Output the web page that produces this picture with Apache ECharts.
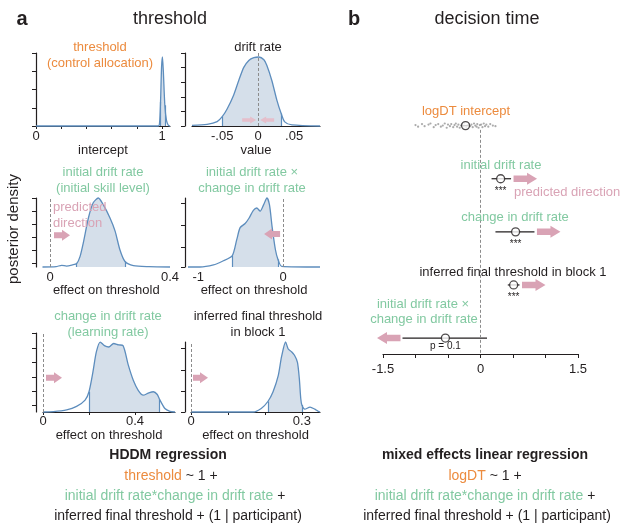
<!DOCTYPE html>
<html><head><meta charset="utf-8">
<script src="https://cdn.jsdelivr.net/npm/echarts@6/dist/echarts.min.js"></script>
<style>html,body{margin:0;padding:0;background:#fff}#c{width:629px;height:525px}</style>
</head><body><div id="c"></div>
<script>
// ---------- DATA ----------
// Panel a: posterior densities (x = parameter value, y = relative density)
const interceptX = [0, 0.97, 0.98, 0.988, 0.996, 1.003, 1.01, 1.022, 1.035, 1.05, 1.063];
const interceptY = [0, 0, 0.04, 0.35, 0.85, 1.0, 0.8, 0.3, 0.08, 0.01, 0];
const interceptCI = [0.988, 1.022];

const driftX = [-0.092, -0.071, -0.057, -0.05, -0.043, -0.034, -0.027, -0.02, -0.013, -0.006, 0.001, 0.008, 0.012, 0.019, 0.026, 0.032, 0.037, 0.047, 0.086];
const driftY = [0.01, 0.024, 0.063, 0.135, 0.25, 0.45, 0.66, 0.85, 0.95, 0.99, 1.0, 0.96, 0.88, 0.66, 0.375, 0.18, 0.06, 0.015, 0];
const driftCI = [-0.05, 0.032];

const initX = [-0.025, 0.02, 0.039, 0.055, 0.075, 0.089, 0.1, 0.111, 0.128, 0.144, 0.161, 0.178, 0.2, 0.217, 0.233, 0.25, 0.278, 0.33, 0.4];
const initY = [0, 0.005, 0.025, 0.012, 0.03, 0.05, 0.15, 0.35, 0.71, 0.93, 1.0, 0.9, 0.71, 0.52, 0.25, 0.08, 0.02, 0.005, 0];
const initCI = [0.089, 0.25];

const interX = [-1.12, -0.98, -0.82, -0.72, -0.6, -0.545, -0.506, -0.447, -0.4, -0.35, -0.31, -0.27, -0.23, -0.19, -0.16, -0.13, -0.09, -0.06, -0.015, 0.435];
const interY = [0, 0, 0.03, 0.08, 0.16, 0.4, 0.57, 0.63, 0.71, 0.82, 0.855, 0.81, 0.9, 1.0, 0.9, 0.59, 0.25, 0.11, 0.01, 0];
const interCI = [-0.6, -0.06];

const changeX = [0, 0.045, 0.103, 0.146, 0.183, 0.2, 0.217, 0.232, 0.249, 0.267, 0.286, 0.307, 0.329, 0.348, 0.371, 0.393, 0.414, 0.436, 0.458, 0.48, 0.497, 0.507, 0.53, 0.552, 0.574];
const changeY = [0, 0.005, 0.03, 0.08, 0.17, 0.29, 0.57, 0.86, 1.0, 0.95, 0.93, 0.98, 0.96, 0.95, 0.67, 0.45, 0.31, 0.24, 0.27, 0.29, 0.25, 0.18, 0.05, 0.01, 0];
const changeCI = [0.2, 0.507];

const finalX = [0, 0.168, 0.19, 0.208, 0.222, 0.236, 0.245, 0.256, 0.263, 0.272, 0.28, 0.288, 0.293, 0.297, 0.3, 0.308, 0.322, 0.335, 0.344, 0.349];
const finalY = [0, 0, 0.05, 0.15, 0.29, 0.52, 0.79, 1.0, 0.9, 0.86, 0.81, 0.71, 0.48, 0.19, 0.1, 0.04, 0.07, 0.04, 0.01, 0];
const finalCI = [0.208, 0.3];

// tick labels
const interceptTicks = [0, 1], interceptTickText = ['0', '1'];
const driftTicks = [-0.05, 0, 0.05], driftTickText = ['-.05', '0', '.05'];
const initTicks = [0, 0.4], initTickText = ['0', '0.4'];
const interTicks = [-1, 0], interTickText = ['-1', '0'];
const changeTicks = [0, 0.4], changeTickText = ['0', '0.4'];
const finalTicks = [0, 0.3], finalTickText = ['0', '0.3'];
const bTicks = [-1.5, 0, 1.5], bTickText = ['-1.5', '0', '1.5'];

// Panel b: mixed effects regression estimates
const bNames = ['logDT intercept', 'initial drift rate', 'change in drift rate', 'inferred final threshold in block 1', 'initial drift rate × change in drift rate'];
const bRow = [5, 4, 3, 2, 1];
const bEst = [-0.23, 0.31, 0.54, 0.51, -0.54];
const bLo = [-0.28, 0.17, 0.23, 0.42, -1.2];
const bHi = [-0.18, 0.47, 0.83, 0.60, 0.10];
const bSig = ['', '***', '***', '***', 'p = 0.1'];
const bDir = [0, 1, 1, 1, -1];
// participant intercepts (grey dots)
const dotX = [-1.0, -0.96, -0.9, -0.86, -0.8, -0.77, -0.72, -0.69, -0.65, -0.61, -0.58, -0.55, -0.52, -0.5, -0.47, -0.45, -0.42, -0.4, -0.38, -0.36, -0.34, -0.32, -0.3, -0.28, -0.26, -0.25, -0.22, -0.2, -0.18, -0.16, -0.14, -0.12, -0.1, -0.08, -0.06, -0.05, -0.03, -0.01, 0.01, 0.03, 0.05, 0.07, 0.09, 0.12, 0.15, 0.19, 0.23];
const dotOff = [0.01, -0.02, 0.03, -0.01, 0.02, 0.04, -0.03, 0.01, 0.03, -0.02, 0.0, 0.04, -0.04, 0.02, -0.01, 0.03, -0.03, 0.01, 0.04, -0.02, 0.02, -0.04, 0.0, 0.03, -0.02, 0.04, -0.03, 0.01, 0.03, -0.01, 0.02, -0.03, 0.04, 0.0, -0.02, 0.03, -0.04, 0.01, 0.02, -0.03, 0.04, -0.01, 0.02, -0.02, 0.03, 0.0, -0.01];

// ---------- STYLE ----------
const FONT = '"Liberation Sans", Arial, Helvetica, sans-serif';
const DARK = '#231F20', ORANGE = '#EC8B3E', GREEN = '#82C9A1', PINK = '#D9A3B5', PINK2 = '#E5BFCB';
const BLUE = '#5D8DBD', FILL = '#D5DFEA', GREY = '#8C8C8C';

const panels = [
  { x: interceptX, y: interceptY, ci: interceptCI, tv: interceptTicks, tt: interceptTickText,
    grid: { left: 36, top: 53, width: 134, height: 73 }, xmin: 0, xmax: 1.063, ymax: 1.058, yoff: 0,
    axisLine: true, xTicks: [0, 0.2, 0.4, 0.6, 0.8, 1.0], yTicks: [0, 0.2645, 0.529, 0.7935, 1.058],
    name: 'intercept', nameGap: 14.5, margin: 4, zero: false, arrows: [] },
  { x: driftX, y: driftY, ci: driftCI, tv: driftTicks, tt: driftTickText,
    grid: { left: 192, top: 53, width: 128, height: 73 }, xmin: -0.092, xmax: 0.086, ymax: 1.058, yoff: 7,
    axisLine: true, xTicks: null, yTicks: [0, 0.2116, 0.4232, 0.6348, 0.8464, 1.058],
    name: 'value', nameGap: 14.5, margin: 4, zero: true,
    arrows: [{ t: -16, dir: 1, len: 14, y: 0.087, small: true }, { t: 16, dir: -1, len: 14, y: 0.087, small: true }] },
  { x: initX, y: initY, ci: initCI, tv: initTicks, tt: initTickText,
    grid: { left: 42.5, top: 198, width: 127.5, height: 69 }, xmin: -0.025, xmax: 0.4, ymax: 1.0, yoff: 6.5,
    axisLine: false, xTicks: null, yTicks: [0.06, 0.25, 0.43, 0.62, 0.81, 1.0],
    name: 'effect on threshold', nameGap: 13.5, margin: 3.5, zero: true,
    arrows: [{ t: 4, dir: 1, len: 16, y: 0.46 }] },
  { x: interX, y: interY, ci: interCI, tv: interTicks, tt: interTickText,
    grid: { left: 188, top: 198, width: 132, height: 69 }, xmin: -1.12, xmax: 0.435, ymax: 1.0, yoff: 3,
    axisLine: false, xTicks: null, yTicks: [0, 0.29, 0.61, 0.93],
    name: 'effect on threshold', nameGap: 13.5, margin: 3.5, zero: true,
    arrows: [{ t: -3, dir: -1, len: 16, y: 0.48 }] },
  { x: changeX, y: changeY, ci: changeCI, tv: changeTicks, tt: changeTickText,
    grid: { left: 43, top: 333, width: 132, height: 79 }, xmin: 0, xmax: 0.574, ymax: 1.13, yoff: 7,
    axisLine: true, xTicks: [0, 0.2, 0.4], yTicks: [0.1, 0.3, 0.5, 0.71, 0.91, 1.13],
    name: 'effect on threshold', nameGap: 13.5, margin: 3, zero: true,
    arrows: [{ t: 3, dir: 1, len: 16, y: 0.49 }] },
  { x: finalX, y: finalY, ci: finalCI, tv: finalTicks, tt: finalTickText,
    grid: { left: 191, top: 342, width: 129, height: 70 }, xmin: 0, xmax: 0.349, ymax: 1.0, yoff: 6,
    axisLine: true, xTicks: [0, 0.1, 0.2, 0.3], yTicks: [0, 0.3, 0.6, 0.914],
    name: 'effect on threshold', nameGap: 13.5, margin: 3, zero: true,
    arrows: [{ t: 2, dir: 1, len: 15, y: 0.49 }] }
];

function arrowPts(x0, y, dir, len, shaftH, headH, headLen) {
  const xm = x0 + dir * (len - headLen), xe = x0 + dir * len;
  return [[x0, y - shaftH / 2], [xm, y - shaftH / 2], [xm, y - headH / 2], [xe, y],
          [xm, y + headH / 2], [xm, y + shaftH / 2], [x0, y + shaftH / 2]];
}

const grids = [], xAxes = [], yAxes = [], series = [], visualMaps = [];
const axisFont = { color: DARK, fontSize: 13, fontFamily: FONT };

panels.forEach((p, i) => {
  grids.push(p.grid);
  xAxes.push({
    type: 'value', gridIndex: i, min: p.xmin, max: p.xmax, splitLine: { show: false },
    axisLine: { show: p.axisLine, onZero: false, lineStyle: { color: DARK, width: 1.2 } },
    axisTick: p.xTicks ? { show: true, customValues: p.xTicks, length: 3, lineStyle: { color: DARK } } : { show: false },
    axisLabel: Object.assign({ customValues: p.tv, margin: p.margin,
      formatter: v => { const k = p.tv.indexOf(v); return k >= 0 ? p.tt[k] : ''; } }, axisFont),
    name: p.name, nameLocation: 'middle', nameGap: p.nameGap, nameTextStyle: axisFont
  });
  yAxes.push({
    type: 'value', gridIndex: i, min: 0, max: p.ymax, offset: p.yoff, splitLine: { show: false },
    axisLine: { show: true, onZero: false, lineStyle: { color: DARK, width: 1.2 } },
    axisTick: { show: true, customValues: p.yTicks, length: 4, lineStyle: { color: DARK } },
    axisLabel: { show: false }
  });
  const pts = p.x.map((x, j) => [x, p.y[j]]);
  series.push({ type: 'line', xAxisIndex: i, yAxisIndex: i, data: pts, smooth: 0.25, symbol: 'none',
    lineStyle: { width: 0 }, areaStyle: { opacity: 1 }, silent: true, z: 1, clip: false });
  visualMaps.push({ type: 'piecewise', show: false, dimension: 0, seriesIndex: series.length - 1,
    pieces: [{ lt: p.ci[0], color: 'rgba(255,255,255,0)' }, { gte: p.ci[0], lte: p.ci[1], color: FILL },
             { gt: p.ci[1], color: 'rgba(255,255,255,0)' }] });
  const yLo = p.y[p.x.indexOf(p.ci[0])], yHi = p.y[p.x.indexOf(p.ci[1])];
  const ml = [[{ coord: [p.ci[0], 0] }, { coord: [p.ci[0], yLo] }], [{ coord: [p.ci[1], 0] }, { coord: [p.ci[1], yHi] }]];
  if (p.zero) ml.push({ xAxis: 0, lineStyle: { type: [3, 2], color: GREY, width: 1 } });
  series.push({ type: 'line', xAxisIndex: i, yAxisIndex: i, data: pts, smooth: 0.25, symbol: 'none', color: BLUE,
    lineStyle: { color: BLUE, width: 1.3 }, z: 3, silent: true, clip: false,
    markLine: { silent: true, symbol: ['none', 'none'], label: { show: false },
      lineStyle: { color: BLUE, width: 1.2, type: 'solid' }, data: ml } });
  if (p.arrows.length) {
    series.push({ type: 'custom', xAxisIndex: i, yAxisIndex: i, silent: true, z: 4,
      data: p.arrows.map(a => [0, a.y]),
      renderItem: (params, api) => {
        const a = p.arrows[params.dataIndex];
        const c = api.coord([0, a.y]);
        const pts2 = a.small ? arrowPts(c[0] + a.t, c[1], a.dir, a.len, 3.5, 7, 6)
                             : arrowPts(c[0] + a.t, c[1], a.dir, a.len, 6, 11, 8);
        return { type: 'polygon', shape: { points: pts2 }, style: { fill: a.small ? PINK2 : PINK } };
      } });
  }
});

// Panel b
const bi = panels.length;
grids.push({ left: 383, top: 115, width: 195, height: 239 });
xAxes.push({ type: 'value', gridIndex: bi, min: -1.5, max: 1.5, interval: 0.5, splitLine: { show: false },
  axisLine: { onZero: false, lineStyle: { color: DARK, width: 1.2 } },
  axisTick: { length: 4, lineStyle: { color: DARK } },
  axisLabel: Object.assign({ margin: 8.5, formatter: v => { const k = bTicks.indexOf(v); return k >= 0 ? bTickText[k] : ''; } }, axisFont) });
yAxes.push({ type: 'value', gridIndex: bi, min: 0.7, max: 5.2, show: false });

series.push({ type: 'scatter', xAxisIndex: bi, yAxisIndex: bi, silent: true, z: 1,
  data: dotX.map((x, j) => [x, bRow[0] + (dotOff[j] || 0)]), symbolSize: 2.2,
  itemStyle: { color: '#8f8f8f', opacity: 0.75 },
  markLine: { silent: true, symbol: ['none', 'none'], label: { show: false },
    lineStyle: { type: [3, 2], color: GREY, width: 1 },
    data: [[{ coord: [0, 4.92] }, { coord: [0, 0.7] }]] } });

series.push({ type: 'custom', xAxisIndex: bi, yAxisIndex: bi, silent: true, z: 2,
  data: bEst.map((v, j) => [v, bRow[j]]),
  renderItem: (params, api) => {
    const i = params.dataIndex, yv = bRow[i];
    const a = api.coord([bLo[i], yv]), b = api.coord([bHi[i], yv]), c = api.coord([bEst[i], yv]);
    const ch = [{ type: 'line', shape: { x1: a[0], y1: a[1], x2: b[0], y2: b[1] }, style: { stroke: DARK, lineWidth: 1.2 } }];
    if (bDir[i] !== 0) {
      const x0 = bDir[i] > 0 ? b[0] + 2.5 : a[0] - 2;
      ch.push({ type: 'polygon', shape: { points: arrowPts(x0, c[1], bDir[i], 23.5, 6.5, 12, 10) }, style: { fill: PINK } });
    }
    if (bSig[i]) {
      const isP = bSig[i].indexOf('p') === 0;
      ch.push({ type: 'text', style: { text: bSig[i], x: c[0], y: c[1] + (isP ? 8.5 : 12.5), fill: DARK,
        font: '10px ' + FONT, align: 'center', verticalAlign: 'middle', textAlign: 'center', textVerticalAlign: 'middle' } });
    }
    return { type: 'group', children: ch };
  } });

series.push({ type: 'scatter', xAxisIndex: bi, yAxisIndex: bi, silent: true, z: 3,
  data: bEst.map((v, j) => [v, bRow[j]]), symbol: 'circle', symbolSize: 8,
  itemStyle: { color: '#fff', borderColor: DARK, borderWidth: 1.3 } });

// ---------- TEXT ----------
function txt(text, x, y, o) {
  o = o || {};
  const size = o.size || 13;
  const font = (o.bold ? 'bold ' : '') + size + 'px ' + FONT;
  const style = { text, x: 0, y: 0, fill: o.color || DARK, font, align: o.align || 'center', verticalAlign: 'middle',
    textAlign: o.align || 'center', textVerticalAlign: 'middle' };
  if (o.rich) style.rich = o.rich;
  return { type: 'text', x, y, rotation: o.rot || 0, z: 100, silent: true, style };
}
const F14 = '14px ' + FONT;
const rich = { o: { fill: ORANGE, color: ORANGE, font: F14 }, g: { fill: GREEN, color: GREEN, font: F14 }, k: { fill: DARK, color: DARK, font: F14 } };

const texts = [
  txt('a', 22, 19, { bold: true, size: 20 }),
  txt('threshold', 170, 19, { size: 18 }),
  txt('b', 354, 19, { bold: true, size: 20 }),
  txt('decision time', 487, 19, { size: 18 }),
  txt('threshold', 100, 47, { color: ORANGE }),
  txt('(control allocation)', 100, 63, { color: ORANGE }),
  txt('drift rate', 258, 47),
  txt('initial drift rate', 103, 172, { color: GREEN }),
  txt('(initial skill level)', 103, 188, { color: GREEN }),
  txt('initial drift rate ×', 252, 172, { color: GREEN }),
  txt('change in drift rate', 252, 188, { color: GREEN }),
  txt('predicted', 53, 207, { color: PINK, align: 'left' }),
  txt('direction', 53, 223, { color: PINK, align: 'left' }),
  txt('change in drift rate', 108, 316, { color: GREEN }),
  txt('(learning rate)', 108, 332, { color: GREEN }),
  txt('inferred final threshold', 258, 316),
  txt('in block 1', 258, 332),
  txt('posterior density', 14, 229, { size: 15, rot: Math.PI / 2 }),
  txt(bNames[0], 466, 111, { color: ORANGE }),
  txt(bNames[1], 501, 165, { color: GREEN }),
  txt('predicted direction', 514, 192, { color: PINK, align: 'left' }),
  txt(bNames[2], 515, 217, { color: GREEN }),
  txt(bNames[3], 513, 272),
  txt('initial drift rate ×', 423, 304, { color: GREEN }),
  txt('change in drift rate', 424, 319, { color: GREEN }),
  txt('HDDM regression', 168, 455, { bold: true, size: 14 }),
  txt('{o|threshold}{k| ~ 1 +}', 171, 476, { size: 14, rich }),
  txt('{g|initial drift rate*change in drift rate}{k| +}', 175, 496, { size: 14, rich }),
  txt('inferred final threshold + (1 | participant)', 178, 516, { size: 14 }),
  txt('mixed effects linear regression', 485, 455, { bold: true, size: 14 }),
  txt('{o|logDT}{k| ~ 1 +}', 485, 476, { size: 14, rich }),
  txt('{g|initial drift rate*change in drift rate}{k| +}', 485, 496, { size: 14, rich }),
  txt('inferred final threshold + (1 | participant)', 487, 516, { size: 14 })
];

const chart = echarts.init(document.getElementById('c'), null, { renderer: 'canvas' });
chart.setOption({
  animation: false, backgroundColor: '#fff',
  grid: grids, xAxis: xAxes, yAxis: yAxes, visualMap: visualMaps, series,
  graphic: { elements: texts }
});
</script></body></html>
